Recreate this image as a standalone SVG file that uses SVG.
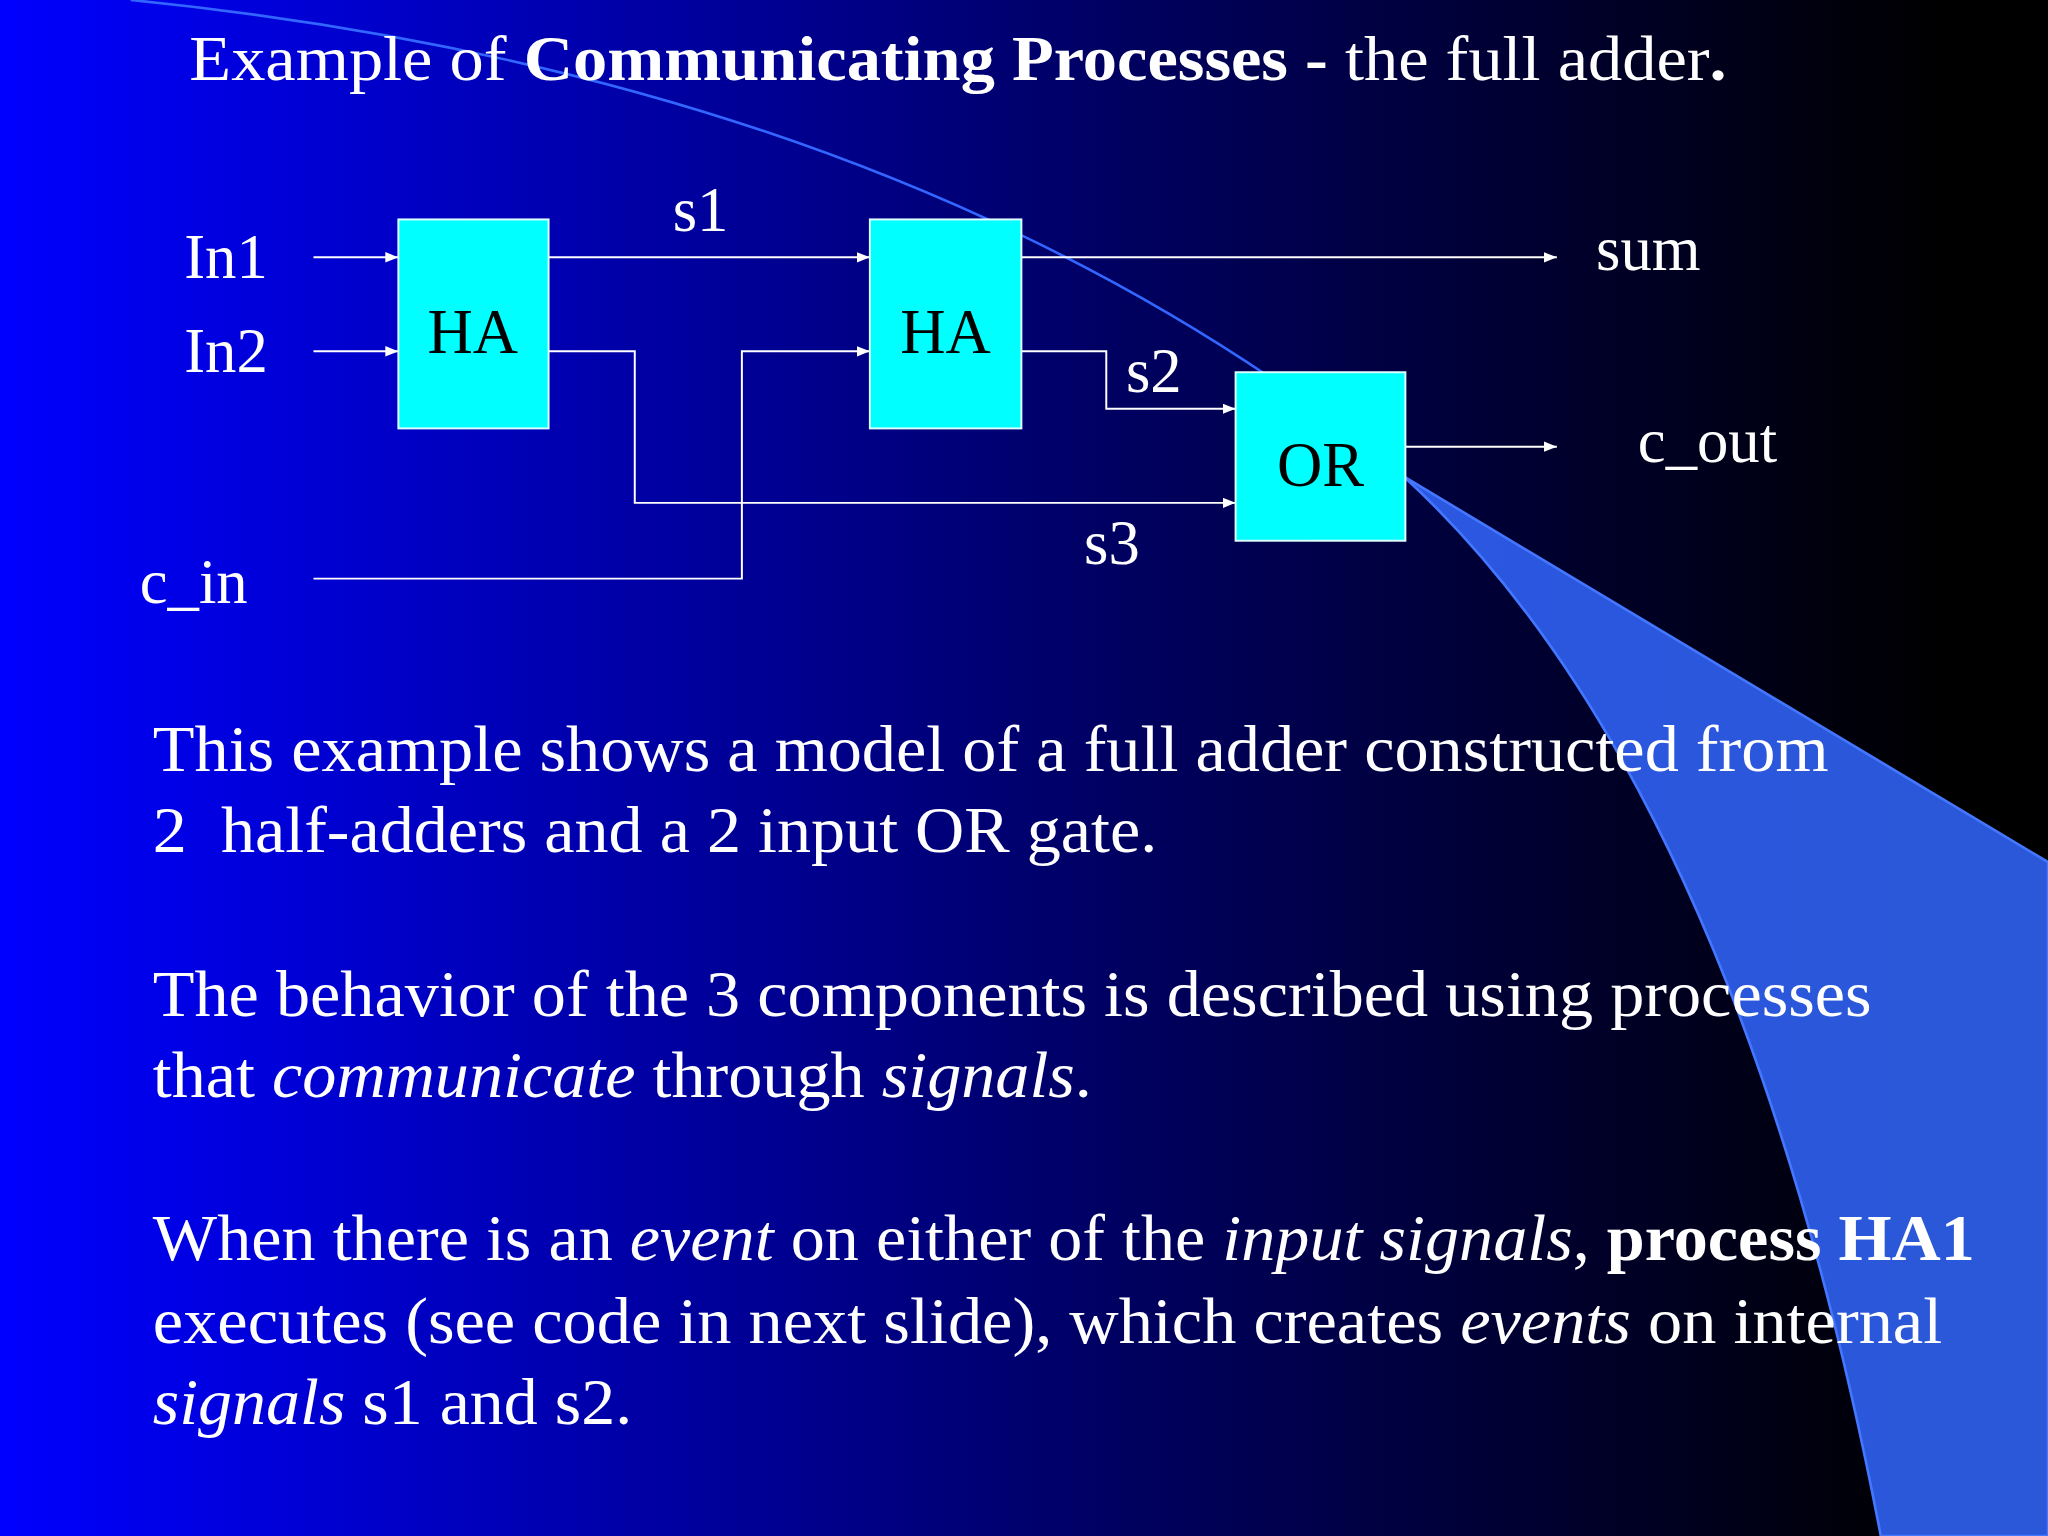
<svg xmlns="http://www.w3.org/2000/svg" width="2048" height="1536" viewBox="0 0 2048 1536">
<defs>
<linearGradient id="bg" x1="0" y1="0" x2="1" y2="0">
<stop offset="0" stop-color="#0000ff"/>
<stop offset="0.55" stop-color="#000060"/>
<stop offset="0.95" stop-color="#000000"/>
</linearGradient>
<marker id="ah" markerWidth="10" markerHeight="8" refX="10" refY="4" orient="auto" markerUnits="userSpaceOnUse">
<path d="M0,0 L10,4 L0,8 z" fill="#fff"/>
</marker>
<style>
text{font-family:"Liberation Serif","Times New Roman",serif;fill:#fff}
.n{fill:#00ffff;stroke:#e0ffff;stroke-width:1.5}
.nt{fill:#000;font-size:48px;text-anchor:middle}
.c{fill:none;stroke:#fff;stroke-width:1.5}
.lb{font-size:48px}
.bd{font-size:50px}
</style>
</defs>
<rect width="2048" height="1536" fill="url(#bg)"/>
<g transform="scale(1.30612)">
<path d="M1075,365 Q1330,600 1440,1176 L1568,1176 L1568,660 Z" fill="#3366ff" fill-opacity="0.85" stroke="#4477ff" stroke-width="2"/>
<path d="M100,0 Q700,60 1075,365" fill="none" stroke="#3366ff" stroke-width="2"/>
<text x="145" y="61" font-size="49" textLength="1177" lengthAdjust="spacingAndGlyphs">Example of <tspan font-weight="bold">Communicating Processes - </tspan>the full adder<tspan font-weight="bold">.</tspan></text>
<g id="connectors">
<path class="c" d="M240,197 H305" marker-end="url(#ah)"/>
<path class="c" d="M240,269 H305" marker-end="url(#ah)"/>
<path class="c" d="M420,197 H666" marker-end="url(#ah)"/>
<path class="c" d="M420,269 H486 V385 H946" marker-end="url(#ah)"/>
<path class="c" d="M240,443 H568 V269 H666" marker-end="url(#ah)"/>
<path class="c" d="M782,197 H1192" marker-end="url(#ah)"/>
<path class="c" d="M782,269 H847 V313 H946" marker-end="url(#ah)"/>
<path class="c" d="M1076,342 H1192" marker-end="url(#ah)"/>
</g>
<g id="ha1"><rect class="n" x="305" y="168" width="115" height="160"/><text class="nt" x="362" y="270">HA</text></g>
<g id="ha2"><rect class="n" x="666" y="168" width="116" height="160"/><text class="nt" x="724" y="270">HA</text></g>
<g id="or"><rect class="n" x="946" y="285" width="130" height="129"/><text class="nt" x="1011" y="372">OR</text></g>
<text class="lb" x="141" y="213">In1</text>
<text class="lb" x="141" y="285">In2</text>
<text class="lb" x="107" y="462">c_in</text>
<text class="lb" x="515" y="177">s1</text>
<text class="lb" x="862" y="300">s2</text>
<text class="lb" x="830" y="432">s3</text>
<text class="lb" x="1222" y="207">sum</text>
<text class="lb" x="1254" y="354">c_out</text>
<text class="bd" x="117" y="590" textLength="1283" lengthAdjust="spacingAndGlyphs">This example shows a model of a full adder constructed from</text>
<text class="bd" x="117" y="652" xml:space="preserve" textLength="769" lengthAdjust="spacingAndGlyphs">2  half-adders and a 2 input OR gate.</text>
<text class="bd" x="117" y="778" textLength="1316" lengthAdjust="spacingAndGlyphs">The behavior of the 3 components is described using processes</text>
<text class="bd" x="117" y="840" textLength="719" lengthAdjust="spacingAndGlyphs">that <tspan font-style="italic">communicate</tspan> through <tspan font-style="italic">signals</tspan>.</text>
<text class="bd" x="117" y="965" textLength="1395" lengthAdjust="spacingAndGlyphs">When there is an <tspan font-style="italic">event</tspan> on either of the <tspan font-style="italic">input signals</tspan>, <tspan font-weight="bold">process HA1</tspan></text>
<text class="bd" x="117" y="1028" textLength="1370" lengthAdjust="spacingAndGlyphs">executes (see code in next slide), which creates <tspan font-style="italic">events</tspan> on internal</text>
<text class="bd" x="117" y="1090" textLength="367" lengthAdjust="spacingAndGlyphs"><tspan font-style="italic">signals</tspan> s1 and s2.</text>
</g>
</svg>
